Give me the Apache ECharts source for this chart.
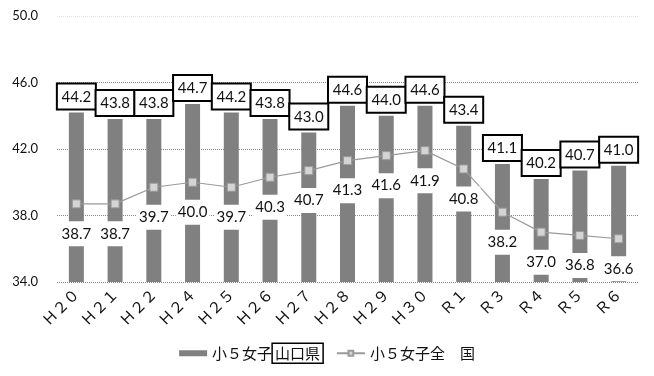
<!DOCTYPE html>
<html>
<head>
<meta charset="utf-8">
<script src="https://cdn.jsdelivr.net/npm/echarts@6/dist/echarts.min.js"></script>
<style>
  html, body { margin: 0; padding: 0; background: #fff; }
  #chart { width: 654px; height: 376px; }
</style>
</head>
<body>
<div id="chart"></div>
<script>
// School years (Heisei / Reiwa)
const categories = ['Ｈ２０', 'Ｈ２１', 'Ｈ２２', 'Ｈ２４', 'Ｈ２５', 'Ｈ２６', 'Ｈ２７', 'Ｈ２８', 'Ｈ２９', 'Ｈ３０', 'Ｒ１', 'Ｒ３', 'Ｒ４', 'Ｒ５', 'Ｒ６'];
// Grade-5 girls, Yamaguchi prefecture
const yamaguchi = [44.2, 43.8, 43.8, 44.7, 44.2, 43.8, 43.0, 44.6, 44.0, 44.6, 43.4, 41.1, 40.2, 40.7, 41.0];
// Grade-5 girls, national average
const national = [38.7, 38.7, 39.7, 40.0, 39.7, 40.3, 40.7, 41.3, 41.6, 41.9, 40.8, 38.2, 37.0, 36.8, 36.6];
// Value axis ticks
const yMin = 34, yMax = 50, yStep = 4;

const numFont = 'Lato, "Noto Sans", sans-serif';
const jpFont = '"Noto Sans CJK JP", sans-serif';

const chart = echarts.init(document.getElementById('chart'), null, { renderer: 'canvas' });
chart.setOption({
  animation: false,
  backgroundColor: '#fff',
  grid: { left: 57, right: 16, top: 16, bottom: 94 },
  legend: {
    bottom: 7,
    left: 'center',
    itemGap: 12,
    textStyle: {
      fontFamily: jpFont, fontSize: 15, color: '#111',
      rich: {
        box: { fontFamily: jpFont, fontSize: 15, color: '#111', borderColor: '#000', borderWidth: 1.5, padding: [3, 3, 2, 3] }
      }
    },
    formatter: function (name) {
      if (name === '小５女子山口県') return '小５女子{box|山口県}';
      return name;
    },
    data: [
      { name: '小５女子山口県', icon: 'rect', itemStyle: { color: '#808080' } },
      { name: '小５女子全　国' }
    ],
    itemWidth: 28,
    itemHeight: 6
  },
  xAxis: {
    type: 'category',
    data: categories,
    axisLine: { show: false },
    axisTick: { show: false },
    axisLabel: { rotate: 45, fontFamily: jpFont, fontSize: 15, color: '#111', margin: 9, interval: 0 }
  },
  yAxis: {
    type: 'value',
    min: yMin, max: yMax, interval: yStep,
    axisLine: { show: false },
    axisTick: { show: false },
    axisLabel: { formatter: v => v.toFixed(1), fontFamily: numFont, fontSize: 13, color: '#111', margin: 19 },
    splitLine: { lineStyle: { type: 'dotted', color: ['#8a8a8a', '#8a8a8a', '#8a8a8a', '#8a8a8a', '#e2e2e2'], width: 1 } }
  },
  series: [
    {
      name: '小５女子山口県',
      type: 'bar',
      data: yamaguchi,
      barWidth: 15,
      itemStyle: { color: '#808080' },
      z: 2,
      label: {
        show: true,
        position: 'top',
        distance: 4,
        formatter: p => p.value.toFixed(1),
        fontFamily: numFont,
        fontSize: 15,
        lineHeight: 17,
        color: '#111',
        backgroundColor: '#fff',
        borderColor: '#000',
        borderWidth: 2,
        width: 35,
        align: 'center',
        padding: [4, 1, 3, 1]
      }
    },
    {
      name: '小５女子全　国',
      type: 'line',
      data: national,
      z: 3,
      symbol: 'rect',
      symbolSize: 8,
      itemStyle: { color: '#d4d4d4', borderColor: '#9a9a9a', borderWidth: 1 },
      lineStyle: { color: '#9a9a9a', width: 1.2 },
      label: {
        show: true,
        position: 'bottom',
        distance: 13,
        formatter: p => p.value.toFixed(1),
        fontFamily: numFont,
        fontSize: 15,
        lineHeight: 17,
        color: '#111',
        backgroundColor: '#fff',
        padding: [4, 2, 4, 2]
      }
    }
  ]
});
</script>
</body>
</html>
